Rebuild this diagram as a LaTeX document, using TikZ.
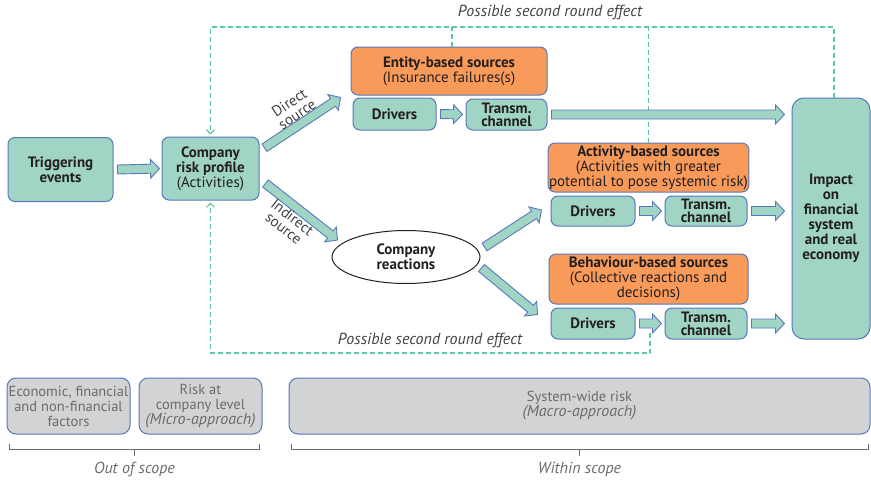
\documentclass[tikz,border=0pt]{standalone}
\usepackage{fontspec}
\setmainfont{PT Sans}
\usetikzlibrary{calc,shapes.geometric,arrows.meta}

\definecolor{tealfill}{HTML}{A0D5C6}
\definecolor{boxline}{HTML}{5878BC}
\definecolor{orangefill}{HTML}{F79A5A}
\definecolor{greyfill}{HTML}{D2D3D5}
\definecolor{dashteal}{HTML}{5CC6A7}
\definecolor{greytext}{HTML}{6A6B6D}
\definecolor{inktext}{HTML}{231F20}

% wide outlined arrow from #1 to #2 (coordinates with their parentheses)
\newcommand{\blockarrow}[2]{%
  \coordinate (ba-s) at #1;
  \coordinate (ba-e) at #2;
  \coordinate (ba-h) at ($(ba-e)!9pt!(ba-s)$);
  \draw[blockarrow] ($(ba-s)!4.5pt!90:(ba-e)$) -- ($(ba-h)!4.5pt!90:(ba-e)$)
    -- ($(ba-h)!9.5pt!90:(ba-e)$) -- (ba-e) -- ($(ba-h)!9.5pt!-90:(ba-e)$)
    -- ($(ba-h)!4.5pt!-90:(ba-e)$) -- ($(ba-s)!4.5pt!-90:(ba-e)$) -- cycle;
}
% italic second line of the scope boxes
\newcommand{\approachtxt}[1]{{\fontsize{16}{15}\selectfont\itshape #1}}

\begin{document}
\begin{tikzpicture}[x=1pt,y=-1pt,
  every node/.style={font=\fontsize{15}{15}\selectfont,text=inktext},
  tealbox/.style={draw=boxline,line width=1pt,fill=tealfill,rounded corners=7pt,align=center,inner sep=1pt},
  orangebox/.style={draw=boxline,line width=1pt,fill=orangefill,rounded corners=7pt,align=center,inner sep=1pt},
  greybox/.style={draw=boxline,line width=1pt,fill=greyfill,rounded corners=9pt,align=center,inner sep=1pt,
    text=greytext,font=\fontsize{14.5}{15}\selectfont},
  blockarrow/.style={draw=boxline,line width=0.9pt,fill=tealfill,line join=miter},
  feedback/.style={draw=dashteal,line width=1.1pt,dash pattern=on 5pt off 3pt},
  bracket/.style={draw=greytext,line width=1.1pt},
  lbl/.style={font=\fontsize{15}{14}\selectfont,text=inktext!85},
  roundlbl/.style={font=\fontsize{16}{16}\selectfont\itshape,text=inktext!85}]
\useasboundingbox (0,0) rectangle (871,485);

% main chain
\node[tealbox,minimum width=105,minimum height=64] (trig) at (60.5,169.5) {\textbf{Triggering}\\\textbf{events}};
\node[tealbox,minimum width=97,minimum height=63] (comp) at (210.5,168.5) {\textbf{Company}\\\textbf{risk profile}\\(Activities)};
\node[orangebox,minimum width=196,minimum height=48] (entity) at (449,71) {\textbf{Entity-based sources}\\(Insurance failures(s)};
\node[tealbox,minimum width=83,minimum height=32] (drv1) at (394.5,114) {\textbf{Drivers}};
\node[tealbox,minimum width=81,minimum height=31] (trm1) at (506.5,114.5) {\textbf{Transm.}\\[-2pt]\textbf{channel}};
\node[tealbox,rounded corners=12pt,minimum width=78,minimum height=241] (impact) at (831,218.5) {\textbf{Impact}\\\textbf{on}\\\textbf{financial}\\\textbf{system}\\\textbf{and real}\\\textbf{economy}};
\node[draw=inktext,line width=1pt,fill=white,ellipse,minimum width=148,minimum height=53,align=center,inner sep=1pt] (reac) at (406,257) {\textbf{Company}\\\textbf{reactions}};
\node[orangebox,minimum width=199,minimum height=49] (activity) at (648.5,167.5) {\textbf{Activity-based sources}\\(Activities with greater\\potential to pose systemic risk)};
\node[tealbox,minimum width=84,minimum height=30] (drv2) at (593,211) {\textbf{Drivers}};
\node[tealbox,minimum width=82,minimum height=30] (trm2) at (706,211) {\textbf{Transm.}\\[-2pt]\textbf{channel}};
\node[orangebox,minimum width=199,minimum height=50] (behav) at (648.5,279) {\textbf{Behaviour-based sources}\\(Collective reactions and\\decisions)};
\node[tealbox,minimum width=84,minimum height=31] (drv3) at (593,323.5) {\textbf{Drivers}};
\node[tealbox,minimum width=82,minimum height=31] (trm3) at (706,323.5) {\textbf{Transm.}\\[-2pt]\textbf{channel}};

% scope boxes
\node[greybox,minimum width=123,minimum height=56] (econ) at (68.5,406) {Economic, financial\\and non-financial\\factors};
\node[greybox,minimum width=123,minimum height=56] (riskco) at (200.5,406) {Risk at\\company level\\\approachtxt{(Micro-approach)}};
\node[greybox,minimum width=581,minimum height=56] (sysw) at (579.5,406) {System-wide risk\\\approachtxt{(Macro-approach)}};

% second round effects
\coordinate (topline) at (0,27);
\coordinate (botline) at (0,353);
\coordinate (fb) at ($(drv3.east)!0.5!(trm3.west)$);
\draw[feedback,-{Straight Barb[length=4pt,width=8pt]}] ([xshift=3pt]impact.north) -- ([xshift=3pt]impact.north |- topline) -| ([yshift=2pt]comp.north);
\draw[feedback] ([xshift=3pt]entity.north) -- ([xshift=3pt]entity.north |- topline);
\draw[feedback] (activity.north) -- (activity.north |- topline);
\draw[feedback,-{Straight Barb[length=4pt,width=8pt]}] ([yshift=-9pt]fb) |- (botline -| comp.south) -- ([yshift=-2pt]comp.south);
\node[roundlbl] (round1) at (550,12) {Possible second round effect};
\node[roundlbl] (round2) at (430,340) {Possible second round effect};

% flows
\blockarrow{([xshift=4pt]trig.east)}{([xshift=-2pt]comp.west)}
\blockarrow{([xshift=5pt]comp.23)}{([xshift=-12pt]drv1.north west)}
\blockarrow{([xshift=6pt]comp.-17)}{([xshift=6pt,yshift=17pt]reac.west)}
\blockarrow{([xshift=4pt]drv1.east)}{([xshift=-3pt]trm1.west)}
\blockarrow{([xshift=4pt]trm1.east)}{([xshift=-7pt]trm1.east -| impact.west)}
\blockarrow{([xshift=4pt,yshift=10pt]reac.east)}{([xshift=-9pt,yshift=1pt]drv2.west)}
\blockarrow{([xshift=1pt,yshift=-11pt]reac.east)}{([xshift=-13pt,yshift=9pt]drv3.west)}
\blockarrow{([xshift=4pt]drv2.east)}{([xshift=-3pt]trm2.west)}
\blockarrow{([xshift=4pt]trm2.east)}{([xshift=-7pt]trm2.east -| impact.west)}
\blockarrow{([xshift=4pt]drv3.east)}{([xshift=-3pt]trm3.west)}
\blockarrow{([xshift=4pt]trm3.east)}{([xshift=-7pt]trm3.east -| impact.west)}

\path ([xshift=5pt]comp.23) -- ([xshift=-12pt]drv1.north west) node[midway,sloped,above=1pt,align=center,lbl] (direct) {Direct\\source};
\path ([xshift=6pt]comp.-17) -- ([xshift=6pt,yshift=17pt]reac.west) node[pos=0.46,sloped,below=1pt,align=center,lbl] (indirect) {Indirect\\source};

% scope brackets
\coordinate (outmid) at ($(econ.south west)!0.5!(riskco.south east)$);
\coordinate (inmid) at (sysw.south);
\draw[bracket] ([xshift=3pt,yshift=-9pt]econ.south west) -- ++(0,6) -| ([xshift=-3pt,yshift=-9pt]riskco.south east);
\draw[bracket] ([xshift=3pt,yshift=-9pt]sysw.south west) -- ++(0,6) -| ([xshift=-2pt,yshift=-9pt]sysw.south east);
\draw[bracket] (outmid) ++(0,15) -- ++(0,6) node[below=3pt,roundlbl,text=greytext] (outscope) {Out of scope};
\draw[bracket] (inmid) ++(0,15) -- ++(0,6) node[below=3pt,roundlbl,text=greytext] (inscope) {Within scope};
\end{tikzpicture}
\end{document}
